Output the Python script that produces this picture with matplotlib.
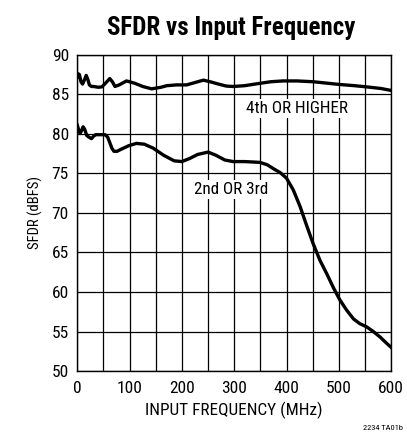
import matplotlib.pyplot as plt

plt.rcParams['font.family'] = ['Roboto Condensed', 'Liberation Sans Narrow', 'DejaVu Sans']

# 4th OR HIGHER
freq_hi = [0, 2, 4, 7, 10, 14, 17, 20, 23, 27, 31, 40, 47, 55, 62, 67, 72, 80, 94,
           110, 125, 142, 160, 171, 190, 209, 225, 241, 254, 270, 285, 298, 320,
           349, 370, 393, 420, 451, 480, 502, 530, 553, 580, 600]
sfdr_hi = [87.2, 87.6, 87.5, 86.6, 86.3, 86.9, 87.4, 86.9, 86.2, 86.0, 86.0, 85.9, 85.95,
           86.5, 87.0, 86.6, 86.0, 86.2, 86.7, 86.4, 86.0, 85.7, 85.9, 86.1, 86.2,
           86.2, 86.5, 86.8, 86.6, 86.3, 86.05, 86.0, 86.1, 86.4, 86.6, 86.7, 86.7,
           86.6, 86.4, 86.25, 86.1, 85.95, 85.75, 85.5]

# 2nd OR 3rd
freq_lo = [0, 3, 5, 8, 11, 14, 18, 22, 27, 31, 35, 45, 53, 58, 62, 66, 70, 76, 85,
           98, 113, 128, 145, 165, 185, 200, 215, 230, 250, 265, 282, 298, 320,
           349, 363, 375, 388, 400, 413, 426, 438, 451, 464, 477, 490, 502, 515,
           528, 540, 553, 566, 579, 590, 600]
sfdr_lo = [81.1, 80.4, 80.05, 80.4, 80.9, 80.6, 79.8, 79.6, 79.4, 79.7, 79.9, 79.9,
           79.9, 79.6, 78.9, 78.2, 77.8, 77.8, 78.1, 78.5, 78.8, 78.7, 78.2, 77.3,
           76.6, 76.5, 76.9, 77.4, 77.7, 77.3, 76.7, 76.5, 76.5, 76.4, 76.1, 75.6,
           75.1, 74.4, 72.9, 70.8, 68.5, 66.1, 64.0, 62.3, 60.5, 59.0, 57.7, 56.6,
           56.0, 55.6, 55.0, 54.3, 53.6, 53.0]

x_ticks = [0, 100, 200, 300, 400, 500, 600]
y_ticks = [50, 55, 60, 65, 70, 75, 80, 85, 90]

fig = plt.figure(figsize=(4.07, 4.46), dpi=100)
ax = fig.add_axes([0.19, 0.168, 0.771, 0.709])

ax.plot(freq_hi, sfdr_hi, color='black', lw=2.4, solid_joinstyle='round', zorder=3)
ax.plot(freq_lo, sfdr_lo, color='black', lw=2.4, solid_joinstyle='round', zorder=3)

ax.set_xlim(0, 600)
ax.set_ylim(50, 90)
ax.set_xticks(x_ticks)
ax.set_yticks(y_ticks)
ax.set_xticks(range(0, 601, 50), minor=True)
ax.grid(True, which='both', color='black', lw=0.9)
ax.tick_params(which='both', length=0, labelsize=12.5)
ax.tick_params(axis='y', pad=6)
ax.tick_params(axis='x', pad=7)
for s in ax.spines.values():
    s.set_linewidth(1.0)

ax.set_xlabel('INPUT FREQUENCY (MHz)', fontsize=12.4, labelpad=4)
ax.set_ylabel('SFDR (dBFS)', fontsize=10.5, labelpad=6)

box = dict(facecolor='white', edgecolor='none', pad=1.5)
ax.text(420, 83.2, '4th OR HIGHER', fontsize=12.3, ha='center', va='center', bbox=box, zorder=4)
ax.text(294, 73.0, '2nd OR 3rd', fontsize=12.3, ha='center', va='center', bbox=box, zorder=4)

fig.text(0.568, 0.937, 'SFDR vs Input Frequency', fontsize=18, fontweight='bold',
         ha='center', va='center')
fig.text(0.99, 0.040, '2234 TA01b', fontsize=6, ha='right', va='center')

fig.savefig('out.png', dpi=100)
